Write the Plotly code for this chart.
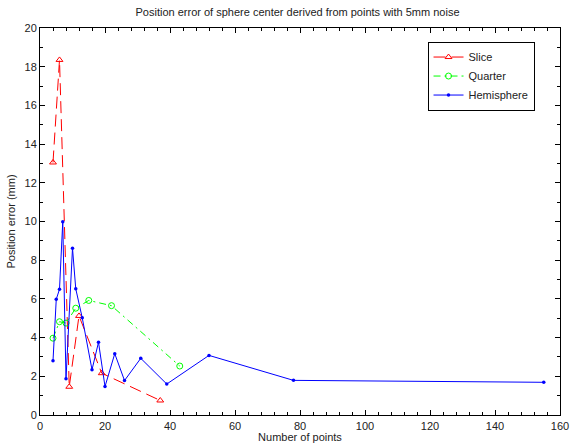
import plotly.graph_objects as go

# Data
slice_x = [4, 6, 9, 12, 19, 37]
slice_y = [13.05, 18.35, 1.46, 5.12, 2.16, 0.75]

quarter_x = [4, 6, 8, 11, 15, 22, 43]
quarter_y = [3.97, 4.82, 4.75, 5.52, 5.92, 5.65, 2.53]

hemi_x = [4, 5, 6, 7, 8, 10, 11, 13, 16, 18, 20, 23, 26, 31, 39, 52, 78, 155]
hemi_y = [2.8, 5.98, 6.5, 9.99, 1.87, 8.62, 6.52, 5.02, 2.34, 3.76, 1.47,
          3.17, 1.78, 2.93, 1.6, 3.08, 1.79, 1.69]

title = "Position error of sphere center derived from points with 5mm noise"
xlabel = "Number of points"
ylabel = "Position error (mm)"

FONT = "Liberation Sans, Arial, Helvetica, sans-serif"

fig = go.Figure()
fig.add_trace(go.Scatter(
    x=slice_x, y=slice_y, name="Slice", mode="lines+markers",
    line=dict(color="#ff0000", width=1, dash="12px,6px"),
    marker=dict(symbol="triangle-up-open", size=6, color="#ff0000",
                line=dict(width=1, color="#ff0000")),
))
fig.add_trace(go.Scatter(
    x=quarter_x, y=quarter_y, name="Quarter", mode="lines+markers",
    line=dict(color="#00ff00", width=1, dash="7px,4px,2px,4px"),
    marker=dict(symbol="circle-open", size=6, color="#00ff00",
                line=dict(width=1, color="#00ff00")),
))
fig.add_trace(go.Scatter(
    x=hemi_x, y=hemi_y, name="Hemisphere", mode="lines+markers",
    line=dict(color="#0000ff", width=1),
    marker=dict(symbol="circle", size=3.5, color="#0000ff"),
))

axis_common = dict(
    showgrid=False, zeroline=False, showline=True, linecolor="black",
    linewidth=1, ticks="inside", tickcolor="black", ticklen=5,
    mirror="allticks", automargin=False,
    tickfont=dict(size=11, color="#222222", family=FONT),
)

fig.update_layout(
    width=570, height=443,
    margin=dict(l=40, r=10, t=28, b=28),
    paper_bgcolor="white", plot_bgcolor="white",
    font=dict(family=FONT, size=11, color="#222222"),
    title=dict(text=title, x=0.522, xanchor="center", y=0.972, yanchor="middle",
               font=dict(size=11, family=FONT, color="#222222")),
    xaxis=dict(range=[0, 160], dtick=20, tick0=0, ticklabelstandoff=1,
               minor=dict(dtick=4, ticklen=3, ticks="inside", tickcolor="black"),
               title=dict(text=xlabel, standoff=5, font=dict(size=11)),
               **axis_common),
    yaxis=dict(range=[0, 20], dtick=2, tick0=0,
               minor=dict(dtick=1, ticklen=3, ticks="inside", tickcolor="black"),
               title=dict(text=ylabel, standoff=6, font=dict(size=11)),
               **axis_common),
    legend=dict(x=0.951, y=0.965, xanchor="right", yanchor="top",
                bgcolor="white", bordercolor="black", borderwidth=1,
                font=dict(size=11, family=FONT, color="#222222"),
                tracegroupgap=0, itemwidth=30),
    showlegend=True,
)

fig.write_html("out.html")
